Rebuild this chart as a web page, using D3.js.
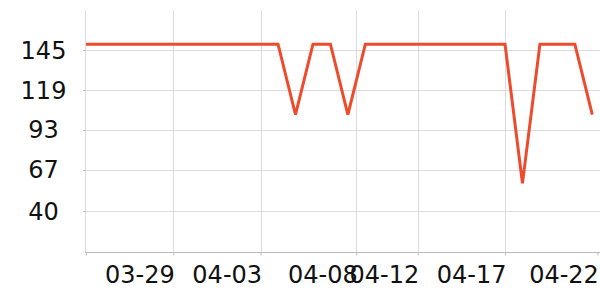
<!DOCTYPE html>
<html>
<head>
<meta charset="utf-8">
<script src="https://cdn.jsdelivr.net/npm/d3@7"></script>
<style>
  html, body { margin: 0; padding: 0; background: #fff; }
  svg { display: block; font-family: "DejaVu Sans", sans-serif; }
  .grid-line { stroke: #dcdcdc; stroke-width: 1; }
  .axis-line { stroke: #bdbdbd; stroke-width: 1; }
  .tick-label-text { font-family: "DejaVu Sans", sans-serif; font-size: 24px; fill: #111; }
</style>
</head>
<body>
<div id="chart"></div>
<script>
const dates = [
  "2024-03-24", "2024-03-25", "2024-03-26", "2024-03-27", "2024-03-28",
  "2024-03-29", "2024-03-30", "2024-03-31", "2024-04-01", "2024-04-02",
  "2024-04-03", "2024-04-04", "2024-04-05", "2024-04-06", "2024-04-07",
  "2024-04-08", "2024-04-09", "2024-04-10", "2024-04-11", "2024-04-12",
  "2024-04-13", "2024-04-14", "2024-04-15", "2024-04-16", "2024-04-17",
  "2024-04-18", "2024-04-19", "2024-04-20", "2024-04-21", "2024-04-22"
];
const values = [
  149, 149, 149, 149, 149, 149, 149, 149, 149, 149,
  149, 149, 103, 149, 149, 103, 149, 149, 149, 149,
  149, 149, 149, 149, 149, 58, 149, 149, 149, 103
];
const xTicks = [
  "2024-03-29T00:00", "2024-04-03T00:00", "2024-04-08T11:30",
  "2024-04-12T00:00", "2024-04-17T00:00", "2024-04-22T07:00"
];
const xTickLabels = ["03-29", "04-03", "04-08", "04-12", "04-17", "04-22"];
const yTicks = [40, 67, 93, 119, 145];
const yDomain = [13, 171.3];

const width = 600;
const height = 300;
const margin = { top: 10, right: 7.7, bottom: 47.7, left: 86 };

const parseDay = d3.utcParse("%Y-%m-%d");
const parseTick = d3.utcParse("%Y-%m-%dT%H:%M");

const data = dates.map((d, i) => ({ date: parseDay(d), value: values[i] }));

const x = d3
  .scaleUtc()
  .domain(d3.extent(data, (d) => d.date))
  .range([margin.left, width - margin.right]);

const y = d3
  .scaleLinear()
  .domain(yDomain)
  .range([height - margin.bottom, margin.top]);

const svg = d3
  .select("#chart")
  .append("svg")
  .attr("width", width)
  .attr("height", height)
  .attr("viewBox", [0, 0, width, height]);

const bottom = height - margin.bottom;

// horizontal grid
svg
  .append("g")
  .selectAll("line")
  .data(yTicks)
  .join("line")
  .attr("class", "grid-line")
  .attr("x1", margin.left)
  .attr("x2", width)
  .attr("y1", (d) => Math.round(y(d)) + 0.5)
  .attr("y2", (d) => Math.round(y(d)) + 0.5);

// vertical grid (only ticks inside the plot)
const tickDates = xTicks.map(parseTick);
svg
  .append("g")
  .selectAll("line")
  .data(tickDates.filter((d) => x(d) <= width - margin.right))
  .join("line")
  .attr("class", "grid-line")
  .attr("x1", (d) => Math.round(x(d)) + 0.5)
  .attr("x2", (d) => Math.round(x(d)) + 0.5)
  .attr("y1", margin.top)
  .attr("y2", bottom);

// y axis line
svg
  .append("line")
  .attr("class", "grid-line")
  .attr("x1", margin.left - 0.5)
  .attr("x2", margin.left - 0.5)
  .attr("y1", margin.top)
  .attr("y2", bottom);

// x axis
svg
  .append("g")
  .attr("transform", `translate(0,${Math.round(bottom) + 0.5})`)
  .call(
    d3
      .axisBottom(x)
      .tickValues([x.domain()[0], ...tickDates])
      .tickSizeOuter(0)
      .tickSizeInner(3)
      .tickFormat((d, i) => (i === 0 ? "" : xTickLabels[i - 1]))
  )
  .attr("font-family", null)
  .attr("font-size", null)
  .call((g) => g.select(".domain").attr("class", "axis-line").attr("d", `M${margin.left - 1},0H${width}`))
  .call((g) => g.selectAll(".tick line").attr("stroke", "#bdbdbd"))
  .call((g) =>
    g
      .selectAll(".tick text")
      .attr("class", "tick-label-text")
      .attr("text-anchor", "end")
      .attr("y", 30)
      .attr("dy", 0)
      .attr("x", 1)
  );

// y tick marks and labels
const yAxis = svg.append("g");
yAxis
  .selectAll("line")
  .data(yTicks)
  .join("line")
  .attr("stroke", "#bdbdbd")
  .attr("x1", margin.left - 3)
  .attr("x2", margin.left)
  .attr("y1", (d) => Math.round(y(d)) + 0.5)
  .attr("y2", (d) => Math.round(y(d)) + 0.5);
yAxis
  .selectAll("text")
  .data(yTicks)
  .join("text")
  .attr("class", "tick-label-text")
  .attr("text-anchor", "middle")
  .attr("x", 43.5)
  .attr("y", (d) => y(d))
  .attr("dy", "0.36em")
  .text((d) => d);

// line
svg
  .append("path")
  .datum(data)
  .attr("fill", "none")
  .attr("stroke", "#ee4b2c")
  .attr("stroke-width", 3)
  .attr("stroke-linejoin", "miter")
  .attr("d", d3.line().x((d) => x(d.date)).y((d) => y(d.value)));
</script>
</body>
</html>
